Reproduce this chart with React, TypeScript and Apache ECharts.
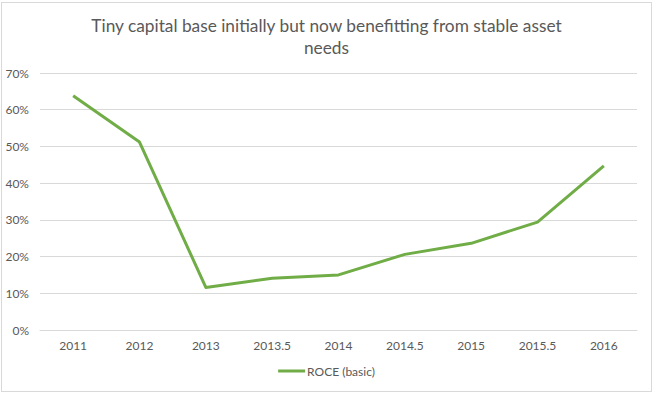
import React, { useEffect, useRef } from "react";
import * as echarts from "echarts";

const categories = ["2011", "2012", "2013", "2013.5", "2014", "2014.5", "2015", "2015.5", "2016"];
const roceValues = [63.8, 51.2, 11.6, 14.1, 15.0, 20.6, 23.6, 29.4, 44.7];
const yTicks = [0, 10, 20, 30, 40, 50, 60, 70];
const titleText = "Tiny capital base initially but now benefitting from stable asset\nneeds";
const seriesName = "ROCE (basic)";

export default function App() {
  const ref = useRef<HTMLDivElement>(null);
  useEffect(() => {
    if (!ref.current) return;
    const chart = echarts.init(ref.current, null, { renderer: "svg" });
    const font = "Lato, 'Open Sans', sans-serif";
    chart.setOption({
      animation: false,
      backgroundColor: "#ffffff",
      title: {
        text: titleText,
        left: "center",
        top: 9,
        textStyle: {
          fontFamily: font,
          fontSize: 17.3,
          fontWeight: "normal",
          color: "#595959",
          lineHeight: 22,
        },
      },
      grid: { left: 40, right: 16, top: 73, bottom: 63, containLabel: false },
      legend: {
        bottom: 11,
        left: "center",
        icon: "rect",
        itemWidth: 27,
        itemHeight: 3,
        textStyle: { fontFamily: font, fontSize: 12, color: "#595959", padding: [0, 0, 0, -3] },
        data: [seriesName],
      },
      xAxis: {
        type: "category",
        data: categories,
        boundaryGap: true,
        axisLine: { show: true, lineStyle: { color: "#d9d9d9", width: 1 } },
        axisTick: { show: false },
        axisLabel: { color: "#595959", fontFamily: font, fontSize: 12, margin: 9 },
      },
      yAxis: {
        type: "value",
        min: yTicks[0],
        max: yTicks[yTicks.length - 1],
        interval: 10,
        axisLine: { show: false },
        axisTick: { show: false },
        splitLine: { lineStyle: { color: "#d9d9d9", width: 1 } },
        axisLabel: {
          color: "#595959",
          fontFamily: font,
          fontSize: 12,
          margin: 11,
          formatter: (v: number) => `${v}%`,
        },
      },
      series: [
        {
          name: seriesName,
          type: "line",
          data: roceValues,
          symbol: "none",
          lineStyle: { color: "#70AD47", width: 3, join: "round" },
          itemStyle: { color: "#70AD47" },
        },
      ],
    });
    return () => chart.dispose();
  }, []);
  return (
    <div style={{ position: "fixed", left: 0, top: 0, width: 653, height: 393, background: "#fff" }}>
      <div ref={ref} style={{ position: "absolute", left: 0, top: 0, width: 653, height: 393 }} />
      <div
        style={{
          position: "absolute",
          left: 1,
          top: 2,
          width: 649,
          height: 388,
          border: "1px solid #d9d9d9",
          pointerEvents: "none",
        }}
      />
    </div>
  );
}
